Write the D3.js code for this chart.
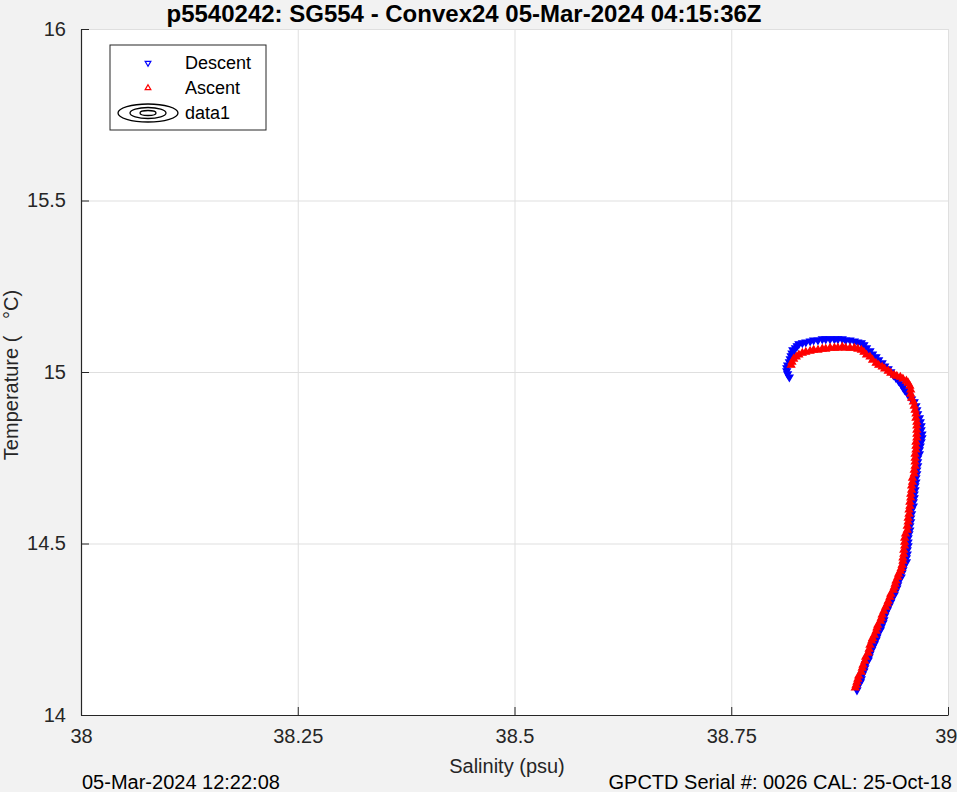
<!DOCTYPE html>
<html><head><meta charset="utf-8">
<script src="https://cdn.jsdelivr.net/npm/d3@7/dist/d3.min.js"></script>
<style>
body{margin:0;background:#f2f2f2;}
svg{display:block;font-family:"Liberation Sans",Arial,Helvetica,sans-serif;}
</style>
</head><body>
<svg id="chart" width="957" height="792"></svg>
<script>
// ---------- data ----------
const descentS = [38.895,38.896,38.899,38.900,38.901,38.903,38.904,38.905,38.908,38.909,38.910,38.912,38.913,38.915,38.917,38.918,38.919,38.922,38.923,38.925,38.926,
  38.927,38.928,38.930,38.932,38.934,38.935,38.938,38.939,38.941,38.942,38.943,38.946,38.947,38.948,38.949,
  38.952,38.952,38.953,38.953,38.954,38.954,38.954,38.955,38.956,38.956,
  38.957,38.957,38.958,38.958,38.960,38.960,38.961,38.961,38.962,38.962,38.963,38.963,38.964,38.964,38.965,38.965,38.965,38.967,38.967,38.968,
  38.969,38.970,38.970,
  38.969,38.969,38.968,38.967,38.965,38.964,38.963,38.961,38.958,38.955,38.953,38.950,38.948,38.946,38.943,38.940,38.937,38.934,38.931,38.927,38.924,38.920,38.917,38.913,38.910,38.906,38.903,38.900,38.896,38.892,38.887,38.882,38.878,38.873,38.869,38.864,38.859,38.855,38.850,38.845,38.841,38.836,38.832,38.828,38.826,38.824,38.821,38.820,38.819,38.818,38.817,38.815,38.814,38.814,38.815,38.817];
const descentT = [14.073,14.085,14.096,14.105,14.117,14.128,14.137,14.149,14.160,14.169,14.178,14.190,14.198,14.207,14.219,14.227,14.236,14.248,14.257,14.268,14.277,14.289,14.297,14.306,14.318,14.329,14.338,14.350,14.359,14.370,14.379,14.391,14.402,14.414,14.423,14.434,14.446,14.458,14.469,14.481,14.493,14.504,14.516,14.528,14.539,14.551,14.563,14.574,14.586,14.598,14.609,14.621,14.633,14.644,14.656,14.668,14.679,14.691,14.703,14.714,14.726,14.738,14.749,14.761,14.773,14.784,14.796,14.808,14.819,14.831,14.843,14.854,14.866,14.878,14.889,14.901,14.913,14.921,14.930,14.939,14.948,14.956,14.965,14.974,14.983,14.991,15.000,15.009,15.017,15.026,15.035,15.044,15.052,15.061,15.070,15.079,15.085,15.087,15.090,15.093,15.093,15.096,15.096,15.096,15.096,15.096,15.096,15.093,15.093,15.090,15.087,15.085,15.082,15.076,15.070,15.064,15.055,15.047,15.038,15.029,15.020,15.012,15.003,14.994,14.985];
const ascentS = [38.893,38.894,38.895,38.896,38.897,38.900,38.901,38.902,38.904,38.905,38.908,38.909,38.910,38.912,38.913,38.915,38.917,38.918,38.919,38.922,38.923,38.924,38.926,38.928,38.930,38.931,38.933,38.934,38.937,38.938,38.939,38.940,38.942,38.943,38.945,38.946,38.947,38.948,38.948,38.949,38.949,38.950,38.950,38.950,
  38.951,38.953,38.953,38.954,38.954,38.955,38.955,38.956,38.956,38.957,38.957,38.958,38.958,38.959,38.959,38.961,38.961,38.962,
  38.962,38.962,38.962,38.963,38.963,38.963,38.964,38.964,38.964,38.964,38.964,38.963,38.963,38.962,38.961,38.960,38.958,38.957,38.957,38.956,38.954,38.952,38.948,38.945,38.941,38.938,38.934,38.931,38.927,38.924,38.920,38.917,38.913,38.910,38.906,38.903,38.900,38.896,38.892,38.887,38.882,38.878,38.873,38.869,38.864,38.859,38.855,38.850,38.845,38.841,38.836,38.832,38.828,38.825,38.822,38.820,38.819];
const ascentT = [14.079,14.087,14.096,14.105,14.114,14.125,14.137,14.146,14.157,14.169,14.181,14.192,14.204,14.216,14.224,14.233,14.245,14.254,14.262,14.274,14.283,14.292,14.303,14.315,14.324,14.332,14.344,14.353,14.364,14.373,14.382,14.391,14.402,14.411,14.420,14.428,14.437,14.449,14.458,14.469,14.481,14.493,14.504,14.516,14.528,14.539,14.551,14.563,14.574,14.586,14.598,14.609,14.621,14.633,14.644,14.656,14.668,14.679,14.691,14.703,14.714,14.726,14.738,14.749,14.761,14.773,14.784,14.796,14.808,14.819,14.831,14.843,14.854,14.866,14.878,14.889,14.901,14.913,14.924,14.936,14.948,14.959,14.968,14.974,14.980,14.985,14.988,14.991,14.997,15.003,15.009,15.015,15.020,15.026,15.035,15.044,15.050,15.058,15.064,15.067,15.070,15.070,15.070,15.073,15.070,15.070,15.070,15.067,15.067,15.064,15.064,15.061,15.058,15.055,15.050,15.044,15.038,15.029,15.020];
const xTicks = [38, 38.25, 38.5, 38.75, 39];
const yTicks = [14, 14.5, 15, 15.5, 16];
const legendLabels = ["Descent", "Ascent", "data1"];
const titleText = "p5540242: SG554 - Convex24 05-Mar-2024 04:15:36Z";
const xLabelText = "Salinity (psu)";
const yLabelText = "Temperature (   °C)";
const footLeftText = "05-Mar-2024 12:22:08";
const footRightText = "GPCTD Serial #: 0026 CAL: 25-Oct-18";

// ---------- layout ----------
const svg = d3.select("#chart");
const L = 81, R = 948, T = 29, B = 715;
const x = d3.scaleLinear().domain([38, 39]).range([L, R]);
const y = d3.scaleLinear().domain([14, 16]).range([B, T]);
const axisCol = "#262626";
const font = '"Liberation Sans",Arial,Helvetica,sans-serif';

svg.append("rect").attr("width", 957).attr("height", 792).attr("fill", "#f2f2f2");
svg.append("rect").attr("x", L).attr("y", T).attr("width", R - L).attr("height", B - T).attr("fill", "#ffffff");

// grid
svg.append("g").attr("transform", `translate(0,${B})`)
  .call(d3.axisBottom(x).tickValues(xTicks).tickSize(-(B - T)).tickFormat(""))
  .call(g => { g.select(".domain").remove(); g.selectAll("line").attr("stroke", "#dfdfdf"); });
svg.append("g").attr("transform", `translate(${L},0)`)
  .call(d3.axisLeft(y).tickValues(yTicks).tickSize(-(R - L)).tickFormat(""))
  .call(g => { g.select(".domain").remove(); g.selectAll("line").attr("stroke", "#dfdfdf"); });

// data markers
const desc = descentS.map((s, i) => ({s, t: descentT[i]}));
const asc = ascentS.map((s, i) => ({s, t: ascentT[i]}));
const tri = d3.symbol(d3.symbolTriangle).size(22);
const plot = svg.append("g");
plot.selectAll(".d").data(desc).join("path").attr("class", "d")
  .attr("d", tri).attr("transform", d => `translate(${x(d.s)},${y(d.t)}) rotate(180)`)
  .attr("fill", "#0000ff").attr("stroke", "#0000ff").attr("stroke-width", 1.3);
plot.selectAll(".a").data(asc).join("path").attr("class", "a")
  .attr("d", tri).attr("transform", d => `translate(${x(d.s)},${y(d.t)})`)
  .attr("fill", "#ff0000").attr("stroke", "#ff0000").attr("stroke-width", 1.3);

// axes
const fs = 20;
const xa = svg.append("g").attr("transform", `translate(0,${B})`)
  .call(d3.axisBottom(x).tickValues(xTicks).tickSizeInner(-8).tickSizeOuter(0).tickPadding(14).tickFormat(d => String(d)));
const ya = svg.append("g").attr("transform", `translate(${L},0)`)
  .call(d3.axisLeft(y).tickValues(yTicks).tickSizeInner(-8).tickSizeOuter(0).tickPadding(15).tickFormat(d => String(d)));
[xa, ya].forEach(a => {
  a.select(".domain").attr("stroke", axisCol).attr("stroke-width", 1.2);
  a.selectAll("line").attr("stroke", axisCol);
  a.selectAll("text").attr("fill", axisCol).style("font-size", fs + "px").style("font-family", font);
});
xa.selectAll(".tick").filter(d => d === 39).select("text").attr("text-anchor", "end").attr("x", 9);

// labels
svg.append("text").attr("x", 464).attr("y", 22).attr("text-anchor", "middle")
  .style("font-size", "24px").style("font-weight", "bold").attr("fill", "#000").text(titleText);
svg.append("text").attr("x", 507).attr("y", 773).attr("text-anchor", "middle")
  .style("font-size", "20px").attr("fill", axisCol).text(xLabelText);
svg.append("text").attr("transform", "translate(18,375) rotate(-90)").attr("text-anchor", "middle")
  .style("font-size", "20px").style("white-space", "pre").attr("fill", axisCol).text(yLabelText);
svg.append("text").attr("x", 82).attr("y", 789).style("font-size", "20px").attr("fill", "#000").text(footLeftText);
svg.append("text").attr("x", 952).attr("y", 789).attr("text-anchor", "end").style("font-size", "20px").attr("fill", "#000").text(footRightText);

// legend
const lg = svg.append("g").attr("transform", "translate(110,45)");
lg.append("rect").attr("width", 156).attr("height", 85).attr("fill", "#fff").attr("stroke", axisCol).attr("stroke-width", 1);
const ly = [18, 43, 68];
legendLabels.forEach((lab, i) => {
  lg.append("text").attr("x", 75).attr("y", ly[i] + 6).style("font-size", "18px").attr("fill", "#000").text(lab);
});
const lsym = d3.symbol(d3.symbolTriangle).size(14);
lg.append("path").attr("d", lsym).attr("transform", `translate(38,${ly[0]}) rotate(180)`).attr("fill", "none").attr("stroke", "#0000ff").attr("stroke-width", 1.2);
lg.append("path").attr("d", lsym).attr("transform", `translate(38,${ly[1]})`).attr("fill", "none").attr("stroke", "#ff0000").attr("stroke-width", 1.2);
[[30, 9], [18, 5.5], [8, 2.5]].forEach(([rx, ry]) => {
  lg.append("ellipse").attr("cx", 38).attr("cy", ly[2]).attr("rx", rx).attr("ry", ry).attr("fill", "none").attr("stroke", "#000").attr("stroke-width", 1.3);
});
</script>
</body></html>
